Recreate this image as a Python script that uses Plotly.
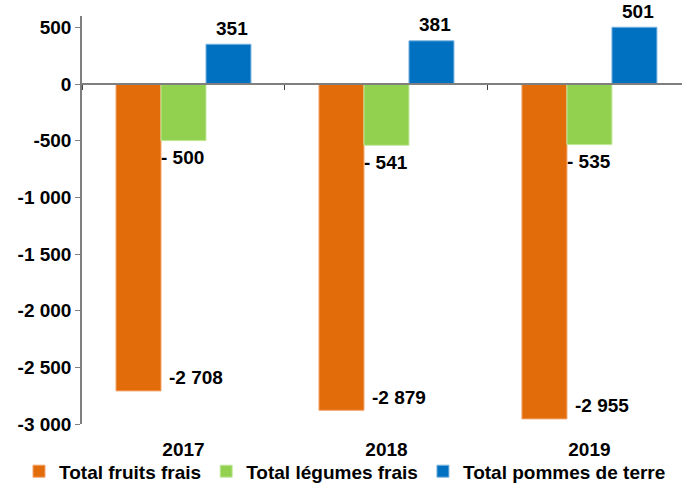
import plotly.graph_objects as go

years = ["2017", "2018", "2019"]
fruits = [-2708, -2879, -2955]
legumes = [-500, -541, -535]
pommes = [351, 381, 501]
series_names = ["Total fruits frais", "Total légumes frais", "Total pommes de terre"]
colors = ["#E36C0A", "#92D050", "#0070C0"]
edge_colors = ["#F3A36A", "#C4E89E", "#7FB5E0"]
tick_vals = [-3000, -2500, -2000, -1500, -1000, -500, 0, 500]
tick_text = ["-3 000", "-2 500", "-2 000", "-1 500", "-1 000", "-500", "0", "500"]

FONT = "Liberation Sans, Arial, sans-serif"
BOLD = dict(family=FONT, size=19, color="black", weight="bold")


def fmt(v):
    return f"{v:,}".replace(",", " ")


fruit_labels = [fmt(v) for v in fruits]
legume_labels = ["- " + fmt(abs(v)) for v in legumes]
pommes_labels = [fmt(v) for v in pommes]

fig = go.Figure()
for name, vals, c, ec in zip(series_names, [fruits, legumes, pommes], colors, edge_colors):
    fig.add_trace(go.Bar(
        x=years, y=vals, name=name,
        marker=dict(color=c, line=dict(color=ec, width=1)),
    ))

# invisible trace for the zero-line axis with category boundary ticks
fig.add_trace(go.Bar(x=years, y=[0, 0, 0], xaxis="x2", showlegend=False,
                     hoverinfo="skip", marker=dict(color="rgba(0,0,0,0)")))

ann = []
for i, (v, t) in enumerate(zip(fruits, fruit_labels)):
    ann.append(dict(x=i, y=v, text=t, xref="x", yref="y", showarrow=False,
                    xanchor="left", yanchor="middle", xshift=-16, yshift=13))
for i, (v, t) in enumerate(zip(legumes, legume_labels)):
    ann.append(dict(x=i, y=v, text=t, xref="x", yref="y", showarrow=False,
                    xanchor="left", yanchor="middle", xshift=-24, yshift=-17))
for i, (v, t) in enumerate(zip(pommes, pommes_labels)):
    ann.append(dict(x=i, y=v, text=t, xref="x", yref="y", showarrow=False,
                    xanchor="center", yanchor="middle", xshift=49, yshift=16))

ymin, ymax = -3000, 600
zero_pos = (0 - ymin) / (ymax - ymin)
xrange_ = [-0.5, 2.456]

fig.update_layout(
    width=682, height=483,
    margin=dict(l=82, r=0, t=16, b=59, autoexpand=False),
    paper_bgcolor="white", plot_bgcolor="white",
    font=BOLD,
    barmode="group", bargap=0.335, bargroupgap=0,
    showlegend=True,
    legend=dict(orientation="h", xref="paper", yref="paper",
                x=-0.105, xanchor="left", y=-0.116, yanchor="middle",
                font=BOLD, itemwidth=30, tracegroupgap=0,
                bgcolor="rgba(0,0,0,0)"),
    annotations=ann,
    xaxis=dict(type="category", range=xrange_, autorange=False, showline=False,
               ticks="outside", ticklen=8, tickcolor="rgba(0,0,0,0)",
               showgrid=False, zeroline=False, tickfont=BOLD),
    xaxis2=dict(type="category", range=xrange_, autorange=False, overlaying="x",
                anchor="free", position=zero_pos, side="bottom",
                showline=True, linecolor="#7f7f7f", linewidth=1.5,
                ticks="outside", ticklen=5, tickcolor="#404040", tickson="boundaries",
                showticklabels=False, showgrid=False, zeroline=False),
    yaxis=dict(range=[ymin, ymax], autorange=False, tickvals=tick_vals, ticktext=tick_text,
               showline=True, linecolor="#7f7f7f", linewidth=1.5,
               ticks="outside", ticklen=5, tickcolor="#7f7f7f",
               showgrid=False, zeroline=False, tickfont=BOLD),
)
fig.update_annotations(font=BOLD)

fig.write_html("out.html", config={"displayModeBar": False},
               post_script="document.body.style.margin='0';")
